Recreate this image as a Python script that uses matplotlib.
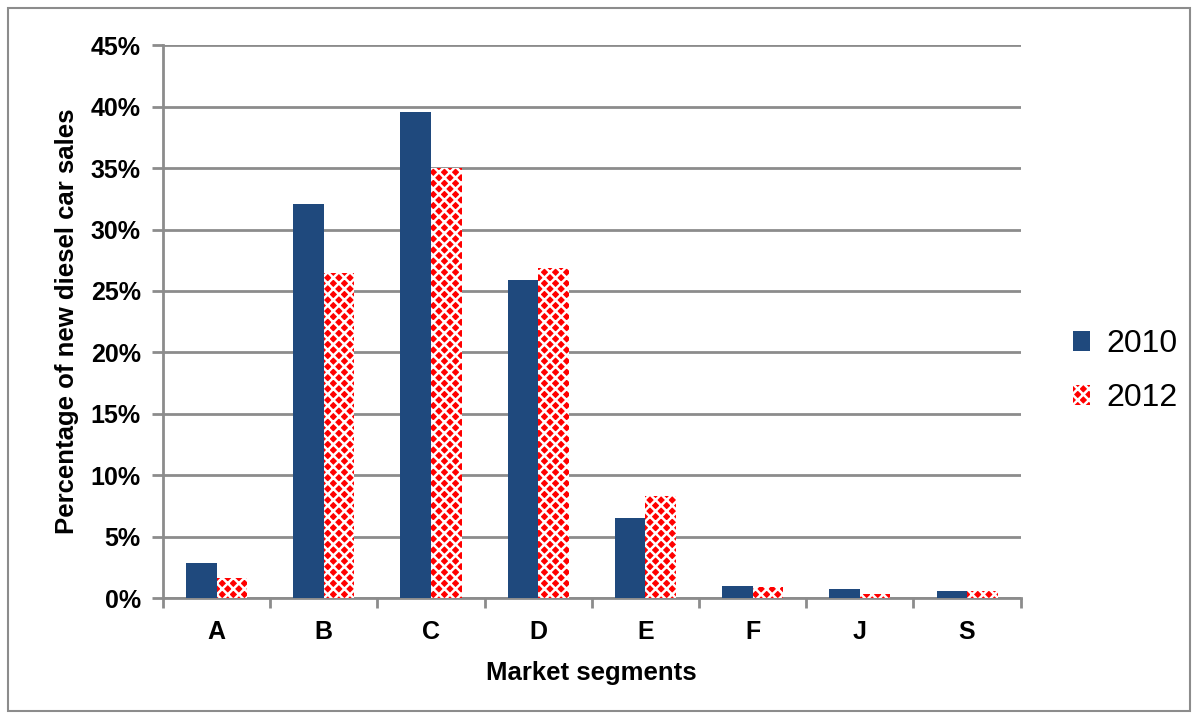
import numpy as np
import matplotlib.pyplot as plt
from matplotlib.patches import Rectangle
from matplotlib.ticker import FuncFormatter, MultipleLocator

plt.rcParams['font.family'] = ['Liberation Sans', 'DejaVu Sans']
plt.rcParams['hatch.linewidth'] = 1.8

segments = ['A', 'B', 'C', 'D', 'E', 'F', 'J', 'S']
share_2010 = [2.85, 32.1, 39.6, 25.9, 6.5, 1.0, 0.75, 0.55]
share_2012 = [1.6, 26.5, 35.0, 26.9, 8.3, 0.9, 0.3, 0.55]

grey = '#8c8c8c'
blue = '#1f497d'
red = '#ff0000'

fig = plt.figure(figsize=(11.98, 7.18), dpi=100)
ax = fig.add_axes([0.136, 0.167, 0.716, 0.770])

# outer chart frame
fig.patches.append(Rectangle((0.007, 0.01), 0.986, 0.979, transform=fig.transFigure,
                             fill=False, edgecolor=grey, linewidth=1.5))

x = np.arange(len(segments))
w = 0.285
ax.bar(x - w / 2, share_2010, w, color=blue, label='2010', zorder=3)
ax.bar(x + w / 2, share_2012, w, color=red, edgecolor='white', linewidth=0,
       hatch='xxx', label='2012', zorder=3)

ax.set_xlim(-0.5, len(segments) - 0.5)
ax.set_ylim(0, 45)
ax.yaxis.set_major_locator(MultipleLocator(5))
ax.yaxis.set_major_formatter(FuncFormatter(lambda v, p: '%d%%' % v))
ax.grid(axis='y', color=grey, linewidth=2, zorder=0)

ax.set_xticks(x)
ax.set_xticklabels(segments, fontsize=18, fontweight='bold')
ax.set_xticks(np.arange(len(segments) + 1) - 0.5, minor=True)
ax.tick_params(axis='x', which='major', length=0, pad=16)
ax.tick_params(axis='x', which='minor', length=7, width=2, color=grey)
ax.tick_params(axis='y', length=8, width=2, color=grey, labelsize=18, pad=8)
for t in ax.get_yticklabels():
    t.set_fontweight('bold')

for s in ['top', 'right']:
    ax.spines[s].set_visible(False)
for s in ['left', 'bottom']:
    ax.spines[s].set_color(grey)
    ax.spines[s].set_linewidth(2)

ax.set_xlabel('Market segments', fontsize=18.5, fontweight='bold', labelpad=12)
ax.set_ylabel('Percentage of new diesel car sales', fontsize=18.5, fontweight='bold', labelpad=8)

ax.legend(loc='center left', bbox_to_anchor=(1.042, 0.41), frameon=False,
          fontsize=23, handlelength=0.55, handleheight=0.6, handletextpad=0.5,
          labelspacing=0.75, borderpad=0)

fig.savefig('out.png')
